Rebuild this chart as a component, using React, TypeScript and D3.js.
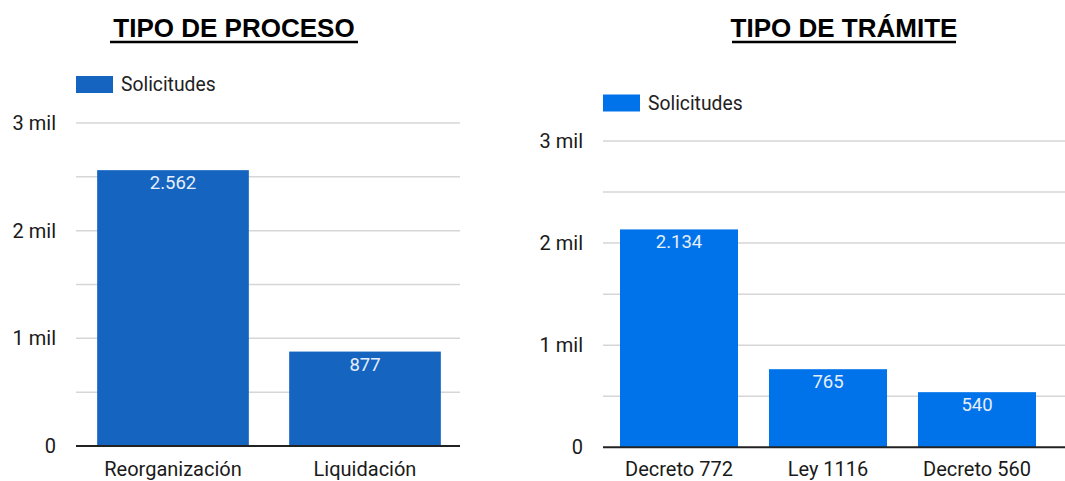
import React from "react";
import * as d3 from "d3";

const procesoCategories = ["Reorganización", "Liquidación"];
const procesoValues = [2562, 877];
const procesoLabels = ["2.562", "877"];

const tramiteCategories = ["Decreto 772", "Ley 1116", "Decreto 560"];
const tramiteValues = [2134, 765, 540];
const tramiteLabels = ["2.134", "765", "540"];

const yTickValues = [0, 1000, 2000, 3000];
const yTickLabels = ["0", "1 mil", "2 mil", "3 mil"];
const gridValues = [0, 500, 1000, 1500, 2000, 2500, 3000];
const seriesName = "Solicitudes";

const FONT = "Roboto, 'Noto Sans', Arial, sans-serif";

type ChartProps = {
  title: string;
  titleX: number;
  underlineW: number;
  categories: string[];
  values: number[];
  labels: string[];
  color: string;
  plotX: [number, number];
  gridX: [number, number];
  yRange: [number, number];
  labelRight: number;
  legendX: number;
  legendY: number;
  catY: number;
};

function Chart(p: ChartProps) {
  const y = d3.scaleLinear().domain([0, 3000]).range(p.yRange);
  const n = p.categories.length;
  const inner = n === 2 ? 0.21 : 0.208;
  const x = d3
    .scaleBand<string>()
    .domain(p.categories)
    .range(p.plotX)
    .paddingInner(inner)
    .paddingOuter(inner / 2);
  return (
    <g>
      <text
        x={p.titleX}
        y={37}
        textAnchor="middle"
        fontFamily="'Liberation Sans', Arial, sans-serif"
        fontWeight="bold"
        fontSize={26}
        fill="#000"
      >
        {p.title}
      </text>
      <line
        x1={p.titleX - p.underlineW / 2}
        x2={p.titleX + p.underlineW / 2}
        y1={42}
        y2={42}
        stroke="#000"
        strokeWidth={2.5}
      />
      <rect x={p.legendX} y={p.legendY - 8.5} width={37} height={17} fill={p.color} />
      <text
        x={p.legendX + 45}
        y={p.legendY + 6.5}
        fontFamily={FONT}
        fontSize={19.3}
        fill="#222"
      >
        {seriesName}
      </text>
      {gridValues.map((v) =>
        v === 0 ? null : (
          <line
            key={v}
            x1={p.gridX[0]}
            x2={p.gridX[1]}
            y1={y(v)}
            y2={y(v)}
            stroke="#d6d6d6"
            strokeWidth={1.5}
          />
        )
      )}
      {yTickValues.map((v, i) => (
        <text
          key={v}
          x={p.labelRight}
          y={y(v) + 7}
          textAnchor="end"
          fontFamily={FONT}
          fontSize={20}
          fill="#1a1a1a"
        >
          {yTickLabels[i]}
        </text>
      ))}
      {p.categories.map((c, i) => (
        <g key={c}>
          <rect
            x={x(c)}
            y={y(p.values[i])}
            width={x.bandwidth()}
            height={y(0) - y(p.values[i])}
            fill={p.color}
          />
          <text
            x={(x(c) as number) + x.bandwidth() / 2}
            y={y(p.values[i]) + 19}
            textAnchor="middle"
            fontFamily={FONT}
            fontSize={18.5}
            fill="#e6eefb"
          >
            {p.labels[i]}
          </text>
          <text
            x={(x(c) as number) + x.bandwidth() / 2}
            y={p.catY}
            textAnchor="middle"
            fontFamily={FONT}
            fontSize={20}
            fill="#1a1a1a"
          >
            {c}
          </text>
        </g>
      ))}
      <line
        x1={p.gridX[0]}
        x2={p.gridX[1]}
        y1={y(0)}
        y2={y(0)}
        stroke="#222"
        strokeWidth={2}
      />
    </g>
  );
}

export default function App() {
  return (
    <svg
      width={1065}
      height={481}
      style={{ position: "absolute", left: 0, top: 0, background: "#fff" }}
    >
      <rect width={1065} height={481} fill="#fff" />
      <Chart
        title="TIPO DE PROCESO"
        titleX={234}
        underlineW={248}
        categories={procesoCategories}
        values={procesoValues}
        labels={procesoLabels}
        color="#1565c0"
        plotX={[77, 461]}
        gridX={[76, 460]}
        yRange={[446, 123]}
        labelRight={56}
        legendX={76}
        legendY={84.5}
        catY={476}
      />
      <Chart
        title="TIPO DE TRÁMITE"
        titleX={844}
        underlineW={224}
        categories={tramiteCategories}
        values={tramiteValues}
        labels={tramiteLabels}
        color="#0073ea"
        plotX={[604.5, 1051.5]}
        gridX={[603, 1065]}
        yRange={[447.3, 141]}
        labelRight={583}
        legendX={603}
        legendY={103}
        catY={476}
      />
    </svg>
  );
}
